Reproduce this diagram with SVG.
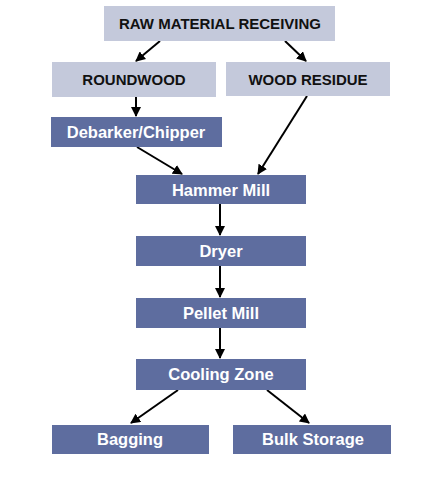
<svg xmlns="http://www.w3.org/2000/svg" width="447" height="480" viewBox="0 0 447 480">
<defs>
<marker id="ah" viewBox="0 0 10 10" refX="9" refY="5" markerWidth="5" markerHeight="5" orient="auto" markerUnits="strokeWidth">
<path d="M0,0 L10,5 L0,10 z" fill="#000"/>
</marker>
<style>
.lt{fill:#c4c9db}
.dk{fill:#5e6d9f}
.tl{font-family:"Liberation Sans",Arial,sans-serif;font-weight:bold;font-size:15px;fill:#111;text-anchor:middle}
.td{font-family:"Liberation Sans",Arial,sans-serif;font-weight:bold;font-size:16.5px;fill:#fff;text-anchor:middle}
.c{stroke:#000;stroke-width:2;fill:none;marker-end:url(#ah)}
</style>
</defs>
<rect width="447" height="480" fill="#fff"/>
<g id="connectors">
<line class="c" x1="160" y1="41" x2="136" y2="61"/>
<line class="c" x1="285" y1="41" x2="306" y2="61"/>
<line class="c" x1="136" y1="97" x2="136" y2="116"/>
<line class="c" x1="137" y1="147" x2="182" y2="174"/>
<line class="c" x1="307" y1="96" x2="258" y2="174"/>
<line class="c" x1="220" y1="204" x2="220" y2="235"/>
<line class="c" x1="220" y1="266" x2="220" y2="297"/>
<line class="c" x1="220" y1="328" x2="220" y2="358"/>
<line class="c" x1="178" y1="390" x2="131" y2="423"/>
<line class="c" x1="267" y1="390" x2="309" y2="423"/>
</g>
<g id="raw"><rect class="lt" x="104" y="6" width="231" height="35"/><text class="tl" x="220" y="29">RAW MATERIAL RECEIVING</text></g>
<g id="roundwood"><rect class="lt" x="52" y="62" width="164" height="35"/><text class="tl" x="134" y="85">ROUNDWOOD</text></g>
<g id="residue"><rect class="lt" x="226" y="62" width="164" height="34"/><text class="tl" x="308" y="85">WOOD RESIDUE</text></g>
<g id="debarker"><rect class="dk" x="51" y="117" width="171" height="30"/><text class="td" x="136" y="138">Debarker/Chipper</text></g>
<g id="hammer"><rect class="dk" x="136" y="175" width="170" height="29"/><text class="td" x="221" y="196">Hammer Mill</text></g>
<g id="dryer"><rect class="dk" x="136" y="236" width="170" height="30"/><text class="td" x="221" y="257">Dryer</text></g>
<g id="pellet"><rect class="dk" x="136" y="298" width="170" height="30"/><text class="td" x="221" y="319">Pellet Mill</text></g>
<g id="cooling"><rect class="dk" x="136" y="359" width="170" height="31"/><text class="td" x="221" y="380">Cooling Zone</text></g>
<g id="bagging"><rect class="dk" x="52" y="425" width="157" height="29"/><text class="td" x="130" y="445">Bagging</text></g>
<g id="bulk"><rect class="dk" x="233" y="425" width="158" height="29"/><text class="td" x="313" y="445">Bulk Storage</text></g>
</svg>
